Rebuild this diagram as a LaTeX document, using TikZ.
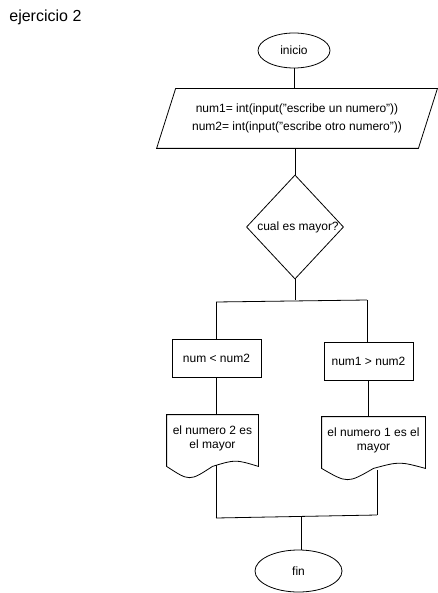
\documentclass[tikz,border=0pt]{standalone}
\usepackage{fontspec}
\setmainfont{Liberation Sans}
\usetikzlibrary{calc,shapes.geometric}
\newcommand\docshape[1]{\draw (#1.north west) -- (#1.north east) -- ($(#1.south east)+(0,4)$) .. controls ($(#1.south west)!0.75!(#1.south east)+(0,-3)$) .. ($(#1.south)+(0,4)$) .. controls ($(#1.south west)!0.25!(#1.south east)+(0,19)$) .. ($(#1.south west)+(0,4)$) -- cycle;}
\begin{document}
\begin{tikzpicture}[x=1pt,y=-1pt, line width=0.8pt,
  every node/.style={font=\fontsize{12}{14}\selectfont, inner sep=0pt, align=center},
  term/.style={ellipse, draw},
  proc/.style={rectangle, draw, minimum width=89pt, minimum height=38pt},
  txtbox/.style={rectangle}]
\useasboundingbox (0,0) rectangle (437,593);

\node[anchor=base west, font=\fontsize{16}{19}\selectfont] (title) at (9,22) {ejercicio 2};

\node[term, minimum width=72pt, minimum height=35pt] (ini) at (294,50.5) {inicio};

\node[txtbox, minimum width=242pt, minimum height=59pt, font=\fontsize{12}{18}\selectfont] (p) at (297,118.5)
  {num1= int(input("escribe un numero"))\\num2= int(input("escribe otro numero"))};
\draw (p.north west) -- ($(p.north east)+(19,0)$) -- (p.south east) -- ($(p.south west)+(-19,0)$) -- cycle;

\node[txtbox, minimum width=96pt, minimum height=103pt] (d) at (295,227) {\hspace*{6pt}cual es mayor?};
\draw (d.north) -- (d.east) -- (d.south) -- (d.west) -- cycle;

\node[proc] (b1) at (216.5,358) {num < num2};
\node[proc] (b2) at (368.5,361) {num1 > num2};

\node[txtbox, minimum width=91pt, minimum height=47pt] (doc1) at (212.5,438.5) {el numero 2 es\\el mayor};
\docshape{doc1}
\node[txtbox, minimum width=103pt, minimum height=47pt] (doc2) at (373.5,440.5) {el numero 1 es el\\mayor};
\docshape{doc2}

\node[term, minimum width=87pt, minimum height=42pt] (fin) at (298.5,571) {fin};

\coordinate (jm) at (295,300);
\coordinate (jl) at (216,302);
\coordinate (jr) at (367,300);
\coordinate (kl) at (216,518);
\coordinate (kr) at (377,515);
\coordinate (km) at (301,516.5);

\draw (ini.south) -- (ini.south |- p.north);
\draw (d.north |- p.south) -- (d.north);
\draw (d.south) -- (jm);
\draw (jl) -- (jr);
\draw (jl) -- (jl |- b1.north);
\draw (jr) -- (jr |- b2.north);
\draw (b1.south) -- (b1.south |- doc1.north);
\draw (b2.south) -- (b2.south |- doc2.north);
\draw (kl |- doc1.south) ++(0,3) -- (kl);
\draw (kr |- doc2.south) ++(0,6) -- (kr);
\draw (kl) -- (kr);
\draw (km) -- (km |- fin.north);
\end{tikzpicture}
\end{document}
